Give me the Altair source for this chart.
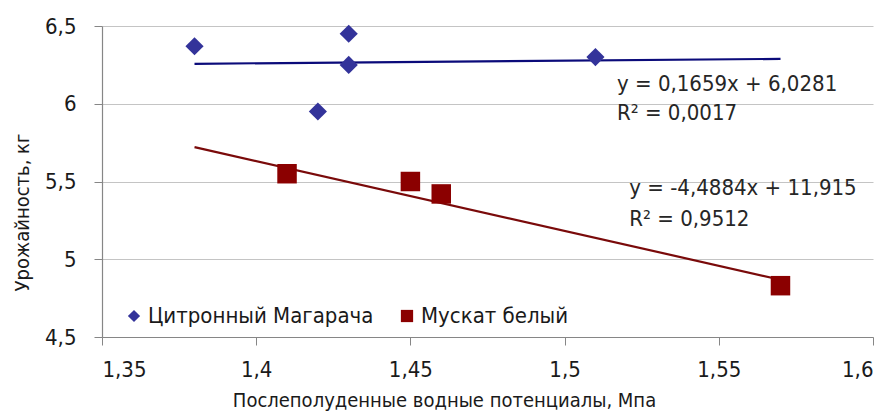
import altair as alt
import pandas as pd

FONT = "DejaVu Sans Condensed, Liberation Sans Narrow, Arial Narrow, sans-serif"

series_names = ["Цитронный Магарача", "Мускат белый"]

# Цитронный Магарача (blue diamonds)
citron_x = [1.38, 1.42, 1.43, 1.43, 1.51]
citron_y = [6.37, 5.95, 6.45, 6.25, 6.30]

# Мускат белый (red squares)
muscat_x = [1.41, 1.45, 1.46, 1.57]
muscat_y = [5.55, 5.50, 5.42, 4.83]

# Linear trend lines as printed on the chart
trend_slope = [0.1659, -4.4884]
trend_intercept = [6.0281, 11.915]
trend_x_range = [1.38, 1.57]
trend_colors = ["#0b0b7a", "#7a0a0a"]

# Equation labels
eq_text = ["y = 0,1659x  + 6,0281", "R² = 0,0017", "y = -4,4884x  + 11,915", "R² = 0,9512"]
eq_x = [1.517, 1.517, 1.521, 1.521]
eq_y = [6.13, 5.94, 5.46, 5.26]

points = pd.DataFrame(
    {
        "x": citron_x + muscat_x,
        "y": citron_y + muscat_y,
        "series": [series_names[0]] * len(citron_x) + [series_names[1]] * len(muscat_x),
        "sz": [330] * len(citron_x) + [380] * len(muscat_x),
    }
)

trend_rows = []
for name, m, b, c in zip(series_names, trend_slope, trend_intercept, trend_colors):
    for xv in trend_x_range:
        trend_rows.append({"series": name, "x": xv, "y": m * xv + b, "lc": c})
trend = pd.DataFrame(trend_rows)

eqs = pd.DataFrame({"text": eq_text, "x": eq_x, "y": eq_y})

x_scale = alt.Scale(domain=[1.35, 1.6], nice=False, zero=False)
y_scale = alt.Scale(domain=[4.5, 6.5], nice=False, zero=False)

x_axis = alt.Axis(
    values=[1.35, 1.4, 1.45, 1.5, 1.55, 1.6],
    labelExpr="replace(format(datum.value, '.2~f'), '.', ',')",
    title="Послеполуденные водные потенциалы, Мпа",
    titleX=342,
    titleY=63,
    titleBaseline="middle",
    titleAlign="center",
    grid=False,
    tickSize=8,
    labelPadding=14,
)
y_axis = alt.Axis(
    values=[4.5, 5, 5.5, 6, 6.5],
    labelExpr="replace(format(datum.value, '.1~f'), '.', ',')",
    title="Урожайность, кг",
    titleX=-80,
    titleY=186,
    titleBaseline="middle",
    titleAlign="center",
    titleAngle=-90,
    grid=True,
    tickSize=8,
    labelPadding=18,
)

lines = (
    alt.Chart(trend)
    .mark_line(strokeWidth=2.2)
    .encode(
        x=alt.X("x:Q", scale=x_scale, axis=x_axis),
        y=alt.Y("y:Q", scale=y_scale, axis=y_axis),
        detail="series:N",
        color=alt.Color("lc:N", scale=None),
    )
)

pts = (
    alt.Chart(points)
    .mark_point(filled=True, opacity=1)
    .encode(
        x=alt.X("x:Q", scale=x_scale),
        y=alt.Y("y:Q", scale=y_scale),
        size=alt.Size("sz:Q", scale=None, legend=None),
        color=alt.Color(
            "series:N",
            scale=alt.Scale(domain=series_names, range=["#33339a", "#8b0000"]),
            legend=alt.Legend(
                title=None,
                orient="none",
                legendX=21,
                legendY=279,
                direction="horizontal",
                symbolSize=150,
                labelFontSize=22,
                labelFont=FONT,
                labelColor="#1a1a1a",
                labelLimit=500,
                columnPadding=22,
                labelOffset=3,
                fillColor="white",
                padding=0,
            ),
        ),
        shape=alt.Shape(
            "series:N",
            scale=alt.Scale(domain=series_names, range=["diamond", "square"]),
        ),
    )
)

labels = (
    alt.Chart(eqs)
    .mark_text(align="left", baseline="middle", fontSize=22, font=FONT, color="#262626")
    .encode(
        x=alt.X("x:Q", scale=x_scale),
        y=alt.Y("y:Q", scale=y_scale),
        text="text:N",
    )
)

chart = (
    alt.layer(lines, pts, labels)
    .properties(
        width=771,
        height=311,
        autosize=alt.AutoSizeParams(type="none"),
        padding={"left": 94, "top": 18, "right": 12, "bottom": 77},
    )
    .configure_view(stroke=None)
    .configure_axis(
        labelFont=FONT,
        titleFont=FONT,
        labelFontSize=22,
        titleFontSize=20,
        labelColor="#1a1a1a",
        titleColor="#1a1a1a",
        titleFontWeight="normal",
        domainColor="#868686",
        tickColor="#868686",
        gridColor="#c4c4c4",
        domainWidth=1.2,
    )
)

chart.save("out.html", embed_options={"renderer": "svg", "actions": False})
